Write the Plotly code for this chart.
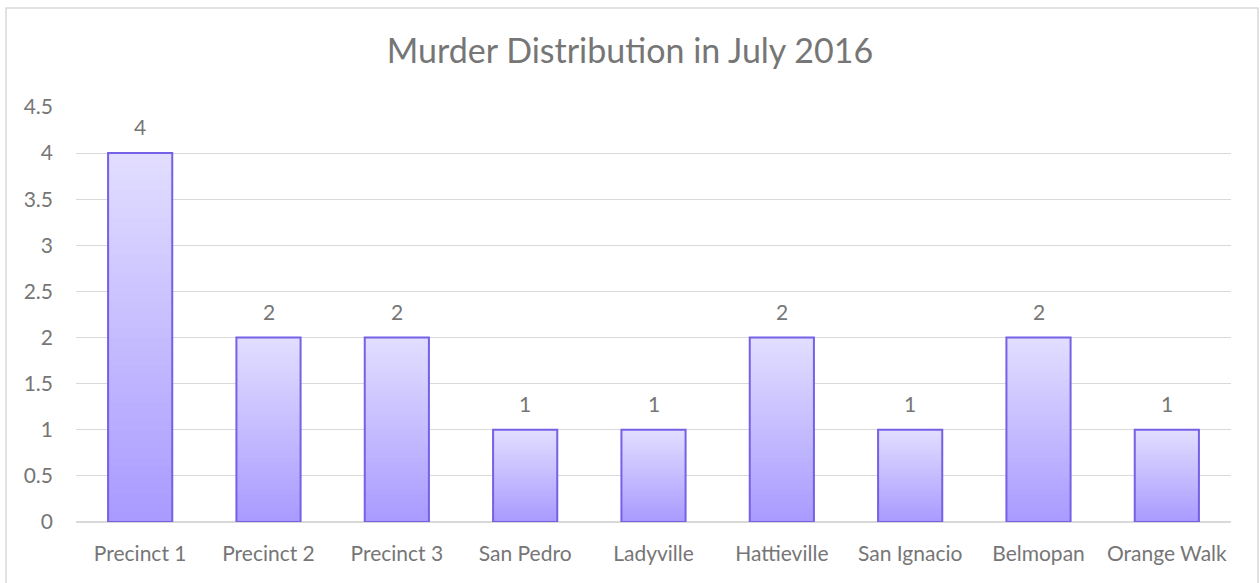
import plotly.graph_objects as go

categories = ["Precinct 1", "Precinct 2", "Precinct 3", "San Pedro", "Ladyville",
              "Hattieville", "San Ignacio", "Belmopan", "Orange Walk"]
murders = [4, 2, 2, 1, 1, 2, 1, 2, 1]
title_text = "Murder Distribution in July 2016"

TOP = (226, 222, 255)
BOTTOM = (168, 154, 255)
OUTLINE = "#7461e6"
FONT = "Lato"
GRAY = "#767676"

fig = go.Figure()

N = 40
for k in range(N):
    frac_top = (N - k) / N
    mid = (N - k - 0.5) / N
    c = tuple(round(BOTTOM[i] + (TOP[i] - BOTTOM[i]) * mid) for i in range(3))
    fig.add_trace(go.Bar(
        x=categories, y=[v * frac_top for v in murders],
        marker=dict(color="rgb(%d,%d,%d)" % c, line=dict(width=0)),
        width=0.5, hoverinfo="skip", showlegend=False,
    ))

fig.add_trace(go.Bar(
    x=categories, y=murders,
    marker=dict(color="rgba(0,0,0,0)", line=dict(color=OUTLINE, width=2)),
    width=0.5, showlegend=False,
))

for c, v in zip(categories, murders):
    fig.add_annotation(x=c, y=v, text=str(v), showarrow=False, yanchor="bottom",
                       yshift=12, font=dict(family=FONT, size=21, color=GRAY))

fig.add_shape(type="rect", xref="paper", yref="paper",
              x0=-0.0606, x1=1.0234, y0=-0.2, y1=1.2386,
              line=dict(color="#d9d9d9", width=1.5), layer="below")

fig.update_layout(
    barmode="overlay",
    width=1260, height=583,
    margin=dict(l=76, r=29, t=107, b=61),
    paper_bgcolor="white", plot_bgcolor="white",
    title=dict(text=title_text, x=0.5, xanchor="center", y=1 - 51 / 583, yanchor="middle",
               font=dict(family=FONT, size=34, color=GRAY)),
    font=dict(family=FONT, size=21, color=GRAY),
    xaxis=dict(showgrid=False, showline=False, ticks="", ticklabelstandoff=17,
               tickfont=dict(family=FONT, size=21, color=GRAY)),
    yaxis=dict(range=[0, 4.5], dtick=0.5, showgrid=True, gridcolor="#d9d9d9", gridwidth=1,
               zeroline=True, zerolinecolor="#d9d9d9", zerolinewidth=1.5,
               showline=False, ticks="", ticklabelstandoff=22,
               tickfont=dict(family=FONT, size=21, color=GRAY)),
    bargap=0.5,
)

fig.write_html("out.html", config={"displayModeBar": False},
               post_script="document.body.style.margin='0';document.body.style.overflow='hidden';")
